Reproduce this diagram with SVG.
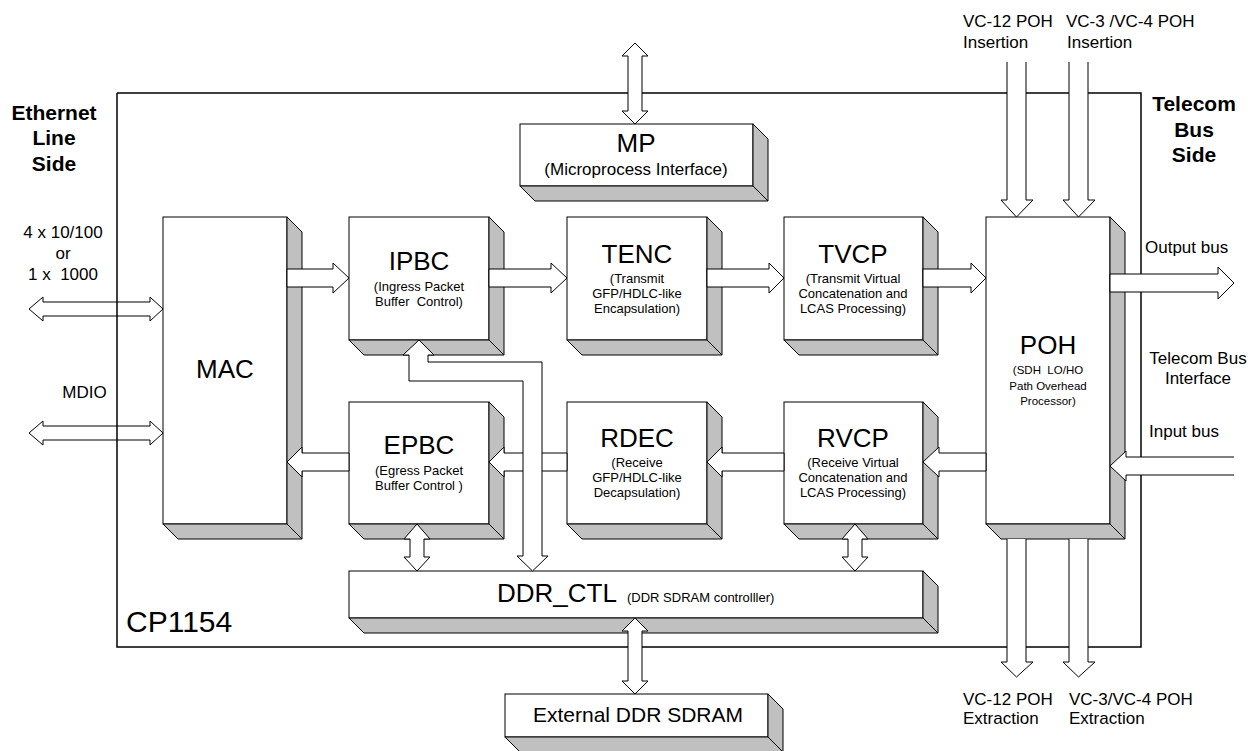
<svg xmlns="http://www.w3.org/2000/svg" width="1256" height="751" viewBox="0 0 1256 751">
<style>
text{font-family:"Liberation Sans",Arial,sans-serif;fill:#000;white-space:pre}
.face{fill:#fff;stroke:#000;stroke-width:1}
.side{fill:#c0c0c0;stroke:#000;stroke-width:1;stroke-linejoin:miter}
.arr{fill:#fff;stroke:#000;stroke-width:1;stroke-linejoin:miter}
.border{fill:none;stroke:#000;stroke-width:1.5}
.t{font-size:26px;text-anchor:middle}
.s{font-size:13px;text-anchor:middle}
.lbl{font-size:17px}
.bold{font-size:21px;font-weight:bold;text-anchor:middle}
</style>
<rect width="1256" height="751" fill="#fff"/>

<g id="MAC">
<rect class="face" x="163" y="217" width="124" height="307"/>
<polygon class="side" points="287,217 302,232 302,539 287,524"/>
<polygon class="side" points="163,524 287,524 302,539 178,539"/>
<text class="t" x="225" y="378">MAC</text>
</g>

<g id="IPBC">
<rect class="face" x="349" y="217" width="140" height="123"/>
<polygon class="side" points="489,217 504,232 504,355 489,340"/>
<polygon class="side" points="349,340 489,340 504,355 364,355"/>
<text class="t" x="419" y="270">IPBC</text>
<text class="s" x="419" y="291">(Ingress Packet</text>
<text class="s" x="419" y="306">Buffer  Control)</text>
</g>

<g id="TENC">
<rect class="face" x="567" y="217" width="140" height="123"/>
<polygon class="side" points="707,217 722,232 722,355 707,340"/>
<polygon class="side" points="567,340 707,340 722,355 582,355"/>
<text class="t" x="637" y="263">TENC</text>
<text class="s" x="637" y="283">(Transmit</text>
<text class="s" x="637" y="298">GFP/HDLC-like</text>
<text class="s" x="637" y="313">Encapsulation)</text>
</g>

<g id="TVCP">
<rect class="face" x="784" y="217" width="139" height="123"/>
<polygon class="side" points="923,217 938,232 938,355 923,340"/>
<polygon class="side" points="784,340 923,340 938,355 799,355"/>
<text class="t" x="853" y="263">TVCP</text>
<text class="s" x="853" y="283">(Transmit Virtual</text>
<text class="s" x="853" y="298">Concatenation and</text>
<text class="s" x="853" y="313">LCAS Processing)</text>
</g>

<g id="POH">
<rect class="face" x="986" y="217" width="124" height="307"/>
<polygon class="side" points="1110,217 1125,232 1125,539 1110,524"/>
<polygon class="side" points="986,524 1110,524 1125,539 1001,539"/>
<text class="t" x="1048" y="354">POH</text>
<text x="1048" y="374" style="font-size:11.5px;text-anchor:middle">(SDH  LO/HO</text>
<text x="1048" y="390" style="font-size:11.5px;text-anchor:middle">Path Overhead</text>
<text x="1048" y="405" style="font-size:11.5px;text-anchor:middle">Processor)</text>
</g>

<g id="EPBC">
<rect class="face" x="349" y="402" width="140" height="122"/>
<polygon class="side" points="489,402 504,417 504,539 489,524"/>
<polygon class="side" points="349,524 489,524 504,539 364,539"/>
<text class="t" x="419" y="454">EPBC</text>
<text class="s" x="419" y="475">(Egress Packet</text>
<text class="s" x="419" y="490">Buffer Control )</text>
</g>

<g id="RDEC">
<rect class="face" x="567" y="402" width="140" height="122"/>
<polygon class="side" points="707,402 722,417 722,539 707,524"/>
<polygon class="side" points="567,524 707,524 722,539 582,539"/>
<text class="t" x="637" y="447">RDEC</text>
<text class="s" x="637" y="467">(Receive</text>
<text class="s" x="637" y="482">GFP/HDLC-like</text>
<text class="s" x="637" y="497">Decapsulation)</text>
</g>

<g id="RVCP">
<rect class="face" x="784" y="402" width="139" height="122"/>
<polygon class="side" points="923,402 938,417 938,539 923,524"/>
<polygon class="side" points="784,524 923,524 938,539 799,539"/>
<text class="t" x="853" y="447">RVCP</text>
<text class="s" x="853" y="467">(Receive Virtual</text>
<text class="s" x="853" y="482">Concatenation and</text>
<text class="s" x="853" y="497">LCAS Processing)</text>
</g>

<g id="DDR_CTL">
<rect class="face" x="349" y="571" width="574" height="47"/>
<polygon class="side" points="923,571 938,586 938,633 923,618"/>
<polygon class="side" points="349,618 923,618 938,633 364,633"/>
<text x="497" y="602" style="font-size:26px">DDR_CTL</text>
<text x="627" y="602" style="font-size:13px">(DDR SDRAM controlller)</text>
</g>

<g id="MP">
<rect class="face" x="520" y="124" width="233" height="62"/>
<polygon class="side" points="753,124 768,139 768,201 753,186"/>
<polygon class="side" points="520,186 753,186 768,201 535,201"/>
<text class="t" x="636" y="152">MP</text>
<text x="636" y="175" style="font-size:17px;text-anchor:middle">(Microprocess Interface)</text>
</g>

<g id="ExtDDR">
<rect class="face" x="505" y="694" width="263" height="43"/>
<polygon class="side" points="768,694 783,709 783,752 768,737"/>
<polygon class="side" points="505,737 768,737 783,752 520,752"/>
<text x="638" y="722" style="font-size:21px;text-anchor:middle">External DDR SDRAM</text>
</g>

<g id="connectors">
<path class="arr" d="M29,309 L43,297 V302 H150 V297 L163,309 L150,321 V316 H43 V321 Z"/>
<path class="arr" d="M29,433 L43,421 V426 H150 V421 L163,433 L150,445 V440 H43 V445 Z"/>
<path class="arr" d="M287,269 H333 V263 L349,278 L333,293 V287 H287 Z"/>
<path class="arr" d="M489,269 H551 V263 L567,278 L551,293 V287 H489 Z"/>
<path class="arr" d="M707,269 H769 V263 L784,278 L769,293 V287 H707 Z"/>
<path class="arr" d="M923,269 H971 V263 L986,278 L971,293 V287 H923 Z"/>
<path class="arr" d="M1110,274 H1218 V267 L1234,283 L1218,299 V292 H1110 Z"/>
<path class="arr" d="M1234,457 H1126 V451 L1110,466 L1126,481 V475 H1234"/>
<path class="arr" d="M986,453 H939 V447 L923,462 L939,477 V471 H986 Z"/>
<path class="arr" d="M784,453 H722 V447 L707,462 L722,477 V471 H784 Z"/>
<path class="arr" d="M567,453 H504 V447 L489,462 L504,477 V471 H567 Z"/>
<path class="arr" d="M349,453 H302 V447 L287,462 L302,477 V471 H349 Z"/>
<path class="arr" d="M417,524 L430,539 H424 V557 H430 L417,571 L404,557 H410 V539 H404 Z"/>
<path class="arr" d="M855,524 L868,539 H862 V557 H868 L855,571 L842,557 H848 V539 H842 Z"/>
<path class="arr" d="M419,340 L434,355 H428 V362 H542 V556 H548 L532.5,571 L517,556 H523 V381 H409 V355 H403 Z"/>
<path class="arr" d="M635,43 L648,56 H642 V111 H648 L635,124 L622,111 H628 V56 H622 Z"/>
<path class="arr" d="M635,618 L648,631 H642 V681 H648 L635,694 L622,681 H628 V631 H622 Z"/>
<path class="arr" d="M1007,62 V200 H1001 L1016.5,217 L1033,200 H1026 V62"/>
<path class="arr" d="M1069,62 V200 H1063 L1078.5,217 L1095,200 H1088 V62"/>
<path class="arr" d="M1007,539 V662 H1001 L1016.5,677 L1033,662 H1026 V539"/>
<path class="arr" d="M1069,539 V662 H1063 L1078.5,677 L1095,662 H1088 V539"/>
</g>

<g id="chip">
<path class="border" d="M117,93 H628 M642,93 H1007 M1026,93 H1069 M1088,93 H1141 V274 M1141,292 V457 M1141,475 V647 H1088 M1069,647 H1026 M1007,647 H642 M628,647 H117 V93"/>
<text x="126" y="632" style="font-size:30px">CP1154</text>
</g>

<g id="labels">
<text class="bold" x="54" y="120">Ethernet</text>
<text class="bold" x="54" y="145">Line</text>
<text class="bold" x="54" y="171">Side</text>
<text class="bold" x="1194" y="111">Telecom</text>
<text class="bold" x="1194" y="137">Bus</text>
<text class="bold" x="1194" y="162">Side</text>
<text class="lbl" x="63" y="238" text-anchor="middle">4 x 10/100</text>
<text class="lbl" x="63" y="259" text-anchor="middle">or</text>
<text class="lbl" x="63" y="280" text-anchor="middle">1 x  1000</text>
<text class="lbl" x="84.5" y="398" text-anchor="middle">MDIO</text>
<text class="lbl" x="963" y="27">VC-12 POH</text>
<text class="lbl" x="963" y="48">Insertion</text>
<text class="lbl" x="1066" y="27">VC-3 /VC-4 POH</text>
<text class="lbl" x="1067" y="48">Insertion</text>
<text class="lbl" x="963" y="705">VC-12 POH</text>
<text class="lbl" x="963" y="724">Extraction</text>
<text class="lbl" x="1069" y="705">VC-3/VC-4 POH</text>
<text class="lbl" x="1069" y="724">Extraction</text>
<text class="lbl" x="1145" y="253">Output bus</text>
<text class="lbl" x="1198" y="364" text-anchor="middle">Telecom Bus</text>
<text class="lbl" x="1198" y="384" text-anchor="middle">Interface</text>
<text class="lbl" x="1149" y="437">Input bus</text>
</g>
</svg>
